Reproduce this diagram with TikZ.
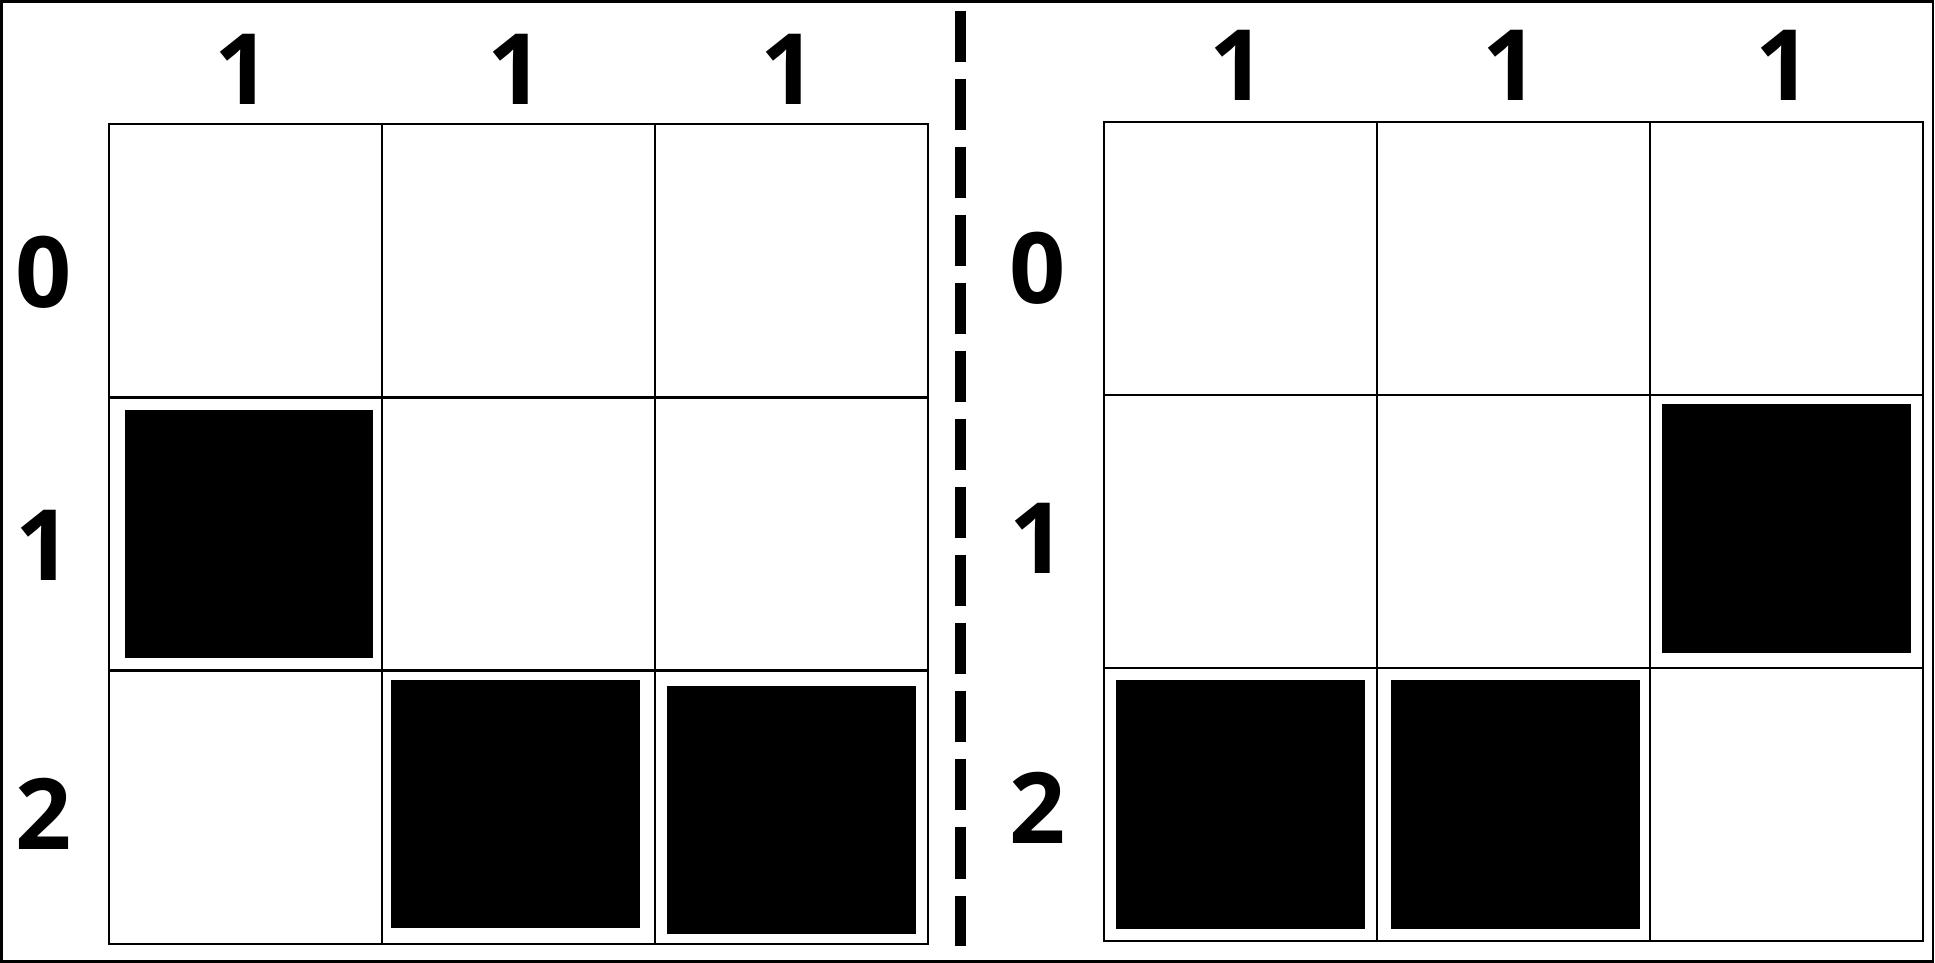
\documentclass[tikz,border=0pt]{standalone}
\usepackage{fontspec}
\setsansfont{Open Sans}
\tikzset{
  cell/.style={draw, line width=0.027cm, minimum width=2.73cm, minimum height=2.73cm, inner sep=0pt},
  blackbox/.style={fill=black, minimum size=2.48cm, inner sep=0pt},
  clue/.style={font=\sffamily\bfseries\fontsize{28}{28}\selectfont, inner sep=0pt},
}
\begin{document}
\begin{tikzpicture}[x=0.01cm, y=-0.01cm]
  \useasboundingbox (0,0) rectangle (1935,963);
  \draw[line width=0.025cm] (1.3,1.3) rectangle (1933.2,961.7);
  % the two grids
  \foreach \r in {0,1,2}
    \foreach \c in {0,1,2} {
      \node[cell] (L-\r-\c) at ({245.5+273*\c},{260.7+273.3*\r}) {};
      \node[cell] (R-\r-\c) at ({1240.5+273*\c},{258.5+273*\r}) {};
    }
  % filled squares
  \foreach \g/\r/\c/\dx/\dy in {L/1/0/3.5/0, L/2/1/-3/-3, L/2/2/0/3, R/1/2/0/-3, R/2/0/0/0, R/2/1/2/0}
    \node[blackbox] (f\g\r\c) at ([shift={(\dx,\dy)}]\g-\r-\c.center) {};
  % column clues
  \foreach \c in {0,1,2} {
    \node[clue] (Lh\c) at ({242.5+273*\c},69) {1};
    \node[clue] (Rh\c) at ({1237.5+273*\c},65) {1};
  }
  % row clues
  \foreach \r/\y in {0/272,1/545,2/814}
    \node[clue] (Lr\r) at (44,\y) {\r};
  \foreach \r/\y in {0/268.5,1/538,2/808}
    \node[clue] (Rr\r) at (1038,\y) {\r};
  % divider
  \coordinate (dtop) at (960.5,11);
  \coordinate (dbot) at (960.5,946);
  \draw[line width=0.11cm, dash pattern=on 0.51cm off 0.17cm] (dtop) -- (dbot);
\end{tikzpicture}
\end{document}
